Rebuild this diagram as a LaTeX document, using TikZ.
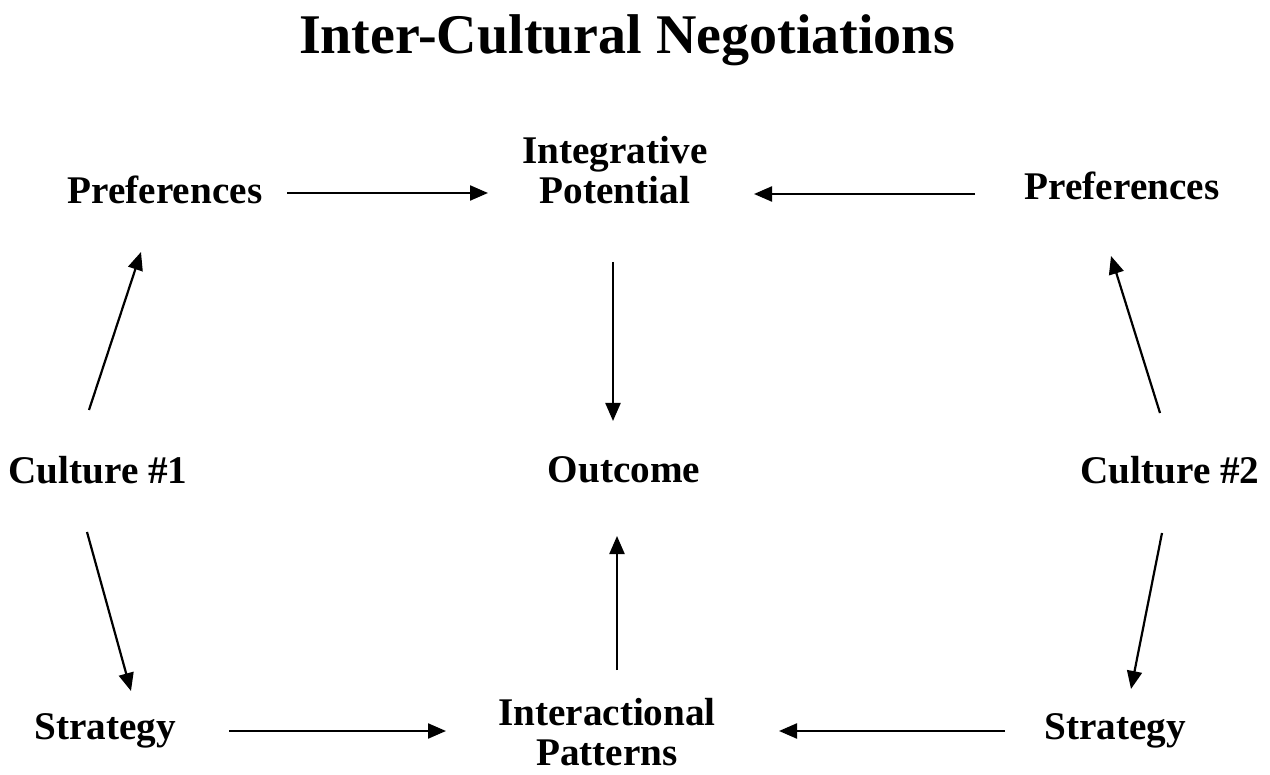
\documentclass[tikz,border=0pt]{standalone}
\usepackage{fontspec}
\setmainfont{Liberation Serif}
\usetikzlibrary{arrows.meta}
\begin{document}
\begin{tikzpicture}[x=0.5pt,y=-0.5pt,
  lbl/.style={font=\bfseries\fontsize{19.6}{20}\selectfont, inner sep=0pt, align=center},
  ttl/.style={font=\bfseries\fontsize{28}{32}\selectfont, inner sep=0pt},
  arr/.style={line width=1.1pt, -{Triangle[length=9pt,width=7.5pt]}}]
\useasboundingbox (0,0) rectangle (1270,775);
\node[ttl] (title) at (627,40) {Inter-Cultural Negotiations};
\node[lbl] (prefL) at (165,190) {Preferences};
\node[lbl] (integ) at (615,170) {Integrative\\Potential};
\node[lbl] (prefR) at (1122,186) {Preferences};
\node[lbl] (cult1) at (98,470) {Culture \#1};
\node[lbl] (outc) at (624,470) {Outcome};
\node[lbl] (cult2) at (1170,470) {Culture \#2};
\node[lbl] (stratL) at (105,731) {Strategy};
\node[lbl] (inter) at (607,732) {Interactional\\Patterns};
\node[lbl] (stratR) at (1115,731) {Strategy};
% connector end points
\coordinate (a1s) at (287,193); \coordinate (a1e) at (488,193);
\coordinate (a2s) at (975,194); \coordinate (a2e) at (754,194);
\coordinate (a3s) at (613,262); \coordinate (a3e) at (613,421);
\coordinate (a4s) at (617,670); \coordinate (a4e) at (617,536);
\coordinate (a5s) at (89,410);  \coordinate (a5e) at (141,252);
\coordinate (a6s) at (1160,413); \coordinate (a6e) at (1111,256);
\coordinate (a7s) at (87,532);  \coordinate (a7e) at (131,691);
\coordinate (a8s) at (1162,533); \coordinate (a8e) at (1131,689);
\coordinate (a9s) at (229,731); \coordinate (a9e) at (446,731);
\coordinate (a10s) at (1005,731); \coordinate (a10e) at (779,731);
\draw[arr] (a1s) -- (a1e);
\draw[arr] (a2s) -- (a2e);
\draw[arr] (a3s) -- (a3e);
\draw[arr] (a4s) -- (a4e);
\draw[arr] (a5s) -- (a5e);
\draw[arr] (a6s) -- (a6e);
\draw[arr] (a7s) -- (a7e);
\draw[arr] (a8s) -- (a8e);
\draw[arr] (a9s) -- (a9e);
\draw[arr] (a10s) -- (a10e);
\end{tikzpicture}
\end{document}
